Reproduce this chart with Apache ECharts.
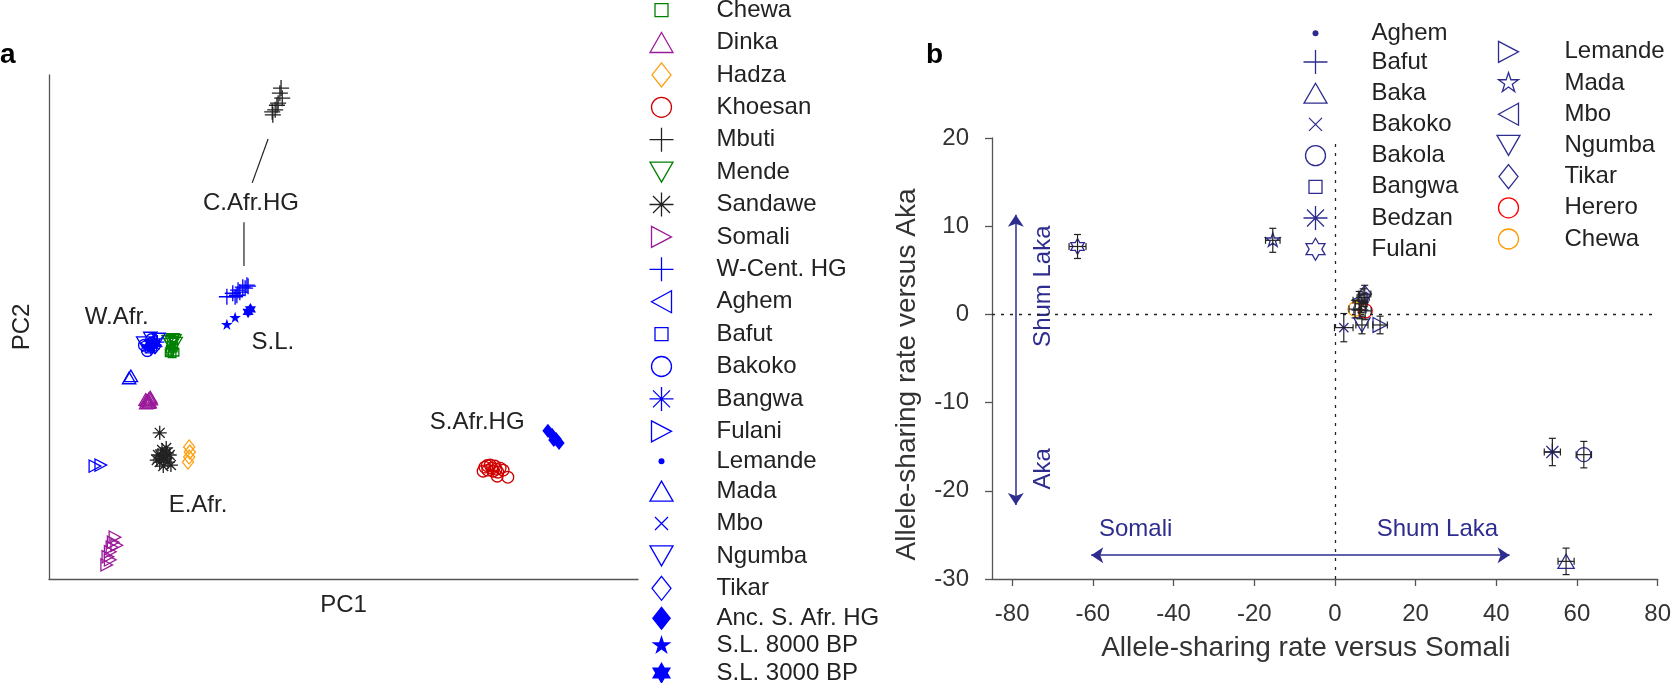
<!DOCTYPE html>
<html><head><meta charset="utf-8">
<script src="https://cdn.jsdelivr.net/npm/echarts@6/dist/echarts.min.js"></script>
<style>html,body{margin:0;padding:0;background:#fff}#c{width:1674px;height:683px}</style>
</head><body><div id="c"></div>
<script>
// ================= Panel a data (PC1, PC2 in arbitrary units, 0-100) =================
const aNames = ['Chewa','Dinka','Hadza','Khoesan','Mbuti','Mende','Sandawe','Somali','W-Cent. HG','Aghem','Bafut','Bakoko','Bangwa','Fulani','Lemande','Mada','Mbo','Ngumba','Tikar','Anc. S. Afr. HG','S.L. 8000 BP','S.L. 3000 BP'];
const a_Chewa   = [[20.5,45.2],[21.1,45.8],[20.8,46.4],[21.4,45.0],[20.9,44.7],[20.6,45.6],[21.2,46.2],[20.4,44.9]];
const a_Dinka   = [[16.6,35.5],[17.0,35.9],[17.1,35.1],[16.5,34.9],[17.3,35.7],[16.8,35.3],[16.9,35.0],[16.4,35.6],[17.2,36.1]];
const a_Hadza   = [[23.8,26.2],[23.9,25.2],[23.8,24.2],[23.6,23.2]];
const a_Khoesan = [[74.0,22.2],[74.9,22.6],[75.7,22.4],[76.6,22.0],[74.5,21.6],[75.4,21.4],[76.2,21.2],[77.1,21.6],[77.9,20.2],[76.1,20.4],[73.7,21.4],[75.2,22.0],[74.4,22.5],[75.9,21.8]];
const a_Mbuti   = [[39.4,97.4],[39.2,96.4],[39.6,95.4],[38.9,94.4],[38.7,94.0],[38.4,93.1],[37.9,92.7],[38.0,92.1]];
const a_Mende   = [[20.3,47.2],[21.0,47.5],[21.5,46.8],[20.7,46.6],[20.9,47.0],[21.3,47.3]];
const a_Sandawe = [[18.8,29.0],[18.5,24.6],[19.2,25.6],[19.7,24.0],[20.2,23.2],[18.8,23.2],[20.5,24.6],[19.4,22.4],[19.9,26.0],[20.7,22.6],[18.3,23.6],[19.5,23.8],[20.0,25.0],[19.0,24.4]];
const a_Somali  = [[11.2,8.3],[10.9,7.3],[11.5,6.7],[10.7,6.3],[10.4,5.4],[10.0,4.4],[10.4,3.8],[9.8,2.8]];
const a_WCentHG = [[30.2,56.0],[31.2,56.7],[32.1,57.3],[32.9,57.9],[33.6,58.3],[32.4,56.9],[31.9,56.3],[33.3,57.7],[33.8,58.1],[31.6,56.0]];
const a_Aghem   = [[16.5,46.8],[17.2,47.2],[16.9,46.2]];
const a_Bafut   = [[17.6,46.0],[18.1,46.9],[17.0,45.6]];
const a_Bakoko  = [[16.2,46.4],[17.4,47.5],[16.7,45.3]];
const a_Bangwa  = [[17.9,46.5],[18.4,47.0],[17.3,45.8]];
const a_Fulani  = [[7.8,22.4],[8.8,22.6]];
const a_Lemande = [[17.0,46.7],[17.8,45.9]];
const a_Mada    = [[13.6,39.9],[13.9,40.3]];
const a_Mbo     = [[16.4,45.8],[17.5,46.6]];
const a_Ngumba  = [[18.6,47.6],[17.2,47.8],[16.0,46.9]];
const a_Tikar   = [[18.0,46.1],[17.3,46.3]];
const a_AncSAfr = [[84.7,29.4],[85.4,28.6],[86.1,27.8],[86.6,27.0],[85.7,27.6]];
const a_SL8000  = [[30.2,50.4],[31.6,51.8]];
const a_SL3000  = [[33.8,53.0],[34.2,53.5]];
const aLabelText = ['C.Afr.HG','W.Afr.','S.L.','E.Afr.','S.Afr.HG'];
const aLabelX    = [34.3, 11.5, 38.0, 25.3, 72.7];
const aLabelY    = [74.6, 52.0, 47.0, 14.7, 31.0];
const aLine1 = [[37.2,87.3],[34.5,78.6]];
const aLine2 = [[33.1,70.8],[33.1,62.1]];

// ================= Panel b data =================
const bNames = ['Aghem','Bafut','Baka','Bakoko','Bakola','Bangwa','Bedzan','Fulani','Lemande','Mada','Mbo','Ngumba','Tikar','Herero','Chewa'];
const bX    = [6.5, 6.2, 57.3, 2.2, 61.7, 7.0, 53.9, -63.8, 11.2, -15.4, 6.0, 6.7, 7.4, 7.5, 5.0];
const bY    = [1.2, 0.5, -28.0, -1.5, -15.9, 1.9, -15.6, 7.7, -1.2, 8.4, 1.6, -1.2, 2.3, 0.4, 0.6];
const bXErr = [1.5, 1.5, 2.0, 2.3, 1.9, 1.5, 2.0, 2.1, 1.8, 1.8, 1.5, 1.5, 1.5, 1.5, 1.5];
const bYErr = [1.0, 1.0, 1.5, 1.6, 1.5, 1.0, 1.55, 1.36, 1.0, 1.36, 1.0, 1.0, 1.0, 1.0, 1.0];
const bXTicks = [-80,-60,-40,-20,0,20,40,60,80];
const bTextLabels = ['Shum Laka','Aka','Somali','Shum Laka'];
const bTextX = [-72.2, -72.2, -49.4, 25.4];
const bTextY = [3.2, -17.5, -24.4, -24.4];
const bArrowV = [[-79.1, 11.3],[-79.1, -21.6]];
const bArrowH = [[-60.4, -27.3],[43.3, -27.3]];

// ================= styles =================
const FONT = 'Liberation Sans, Arial, Helvetica, sans-serif';
const NAVY = '#2e2d8f', BLUE = '#0000ff', GREEN = '#008000', PURPLE = '#9a1a9a',
      ORANGE = '#ffa010', DRED = '#d00000', BLACK = '#222222';
function circ(r){ return `M${12+r} 12A${r} ${r} 0 1 1 ${12-r} 12A${r} ${r} 0 1 1 ${12+r} 12Z`; }
function starPath(R, ratio, n){
  let d='';
  for(let i=0;i<2*n;i++){
    const r = i%2===0 ? R : R*ratio;
    const ang = -Math.PI/2 + i*Math.PI/n;
    d += (i===0?'M':'L') + (12+r*Math.cos(ang)).toFixed(2)+' '+(12+r*Math.sin(ang)).toFixed(2);
  }
  return d+'Z';
}
const SH = {
  square: 'M5.5 5.5L18.5 5.5L18.5 18.5L5.5 18.5Z',
  up: 'M12 2L23.5 22L0.5 22Z',
  down: 'M0.5 2L23.5 2L12 22Z',
  right: 'M2 1.5L22 12L2 22.5Z',
  left: 'M22 1L2 12L22 23Z',
  diamond: 'M12 0L21.5 12L12 24L2.5 12Z',
  circle: circ(10),
  plus: 'M12 0L12 24M0 12L24 12',
  aster: 'M12 0L12 24M0 12L24 12M3.5 3.5L20.5 20.5M20.5 3.5L3.5 20.5',
  x: 'M5.5 5.5L18.5 18.5M18.5 5.5L5.5 18.5',
  dot: circ(3),
  star5: starPath(10.5, 0.382, 5),
  hex: starPath(11, 0.577, 6)
};
const sym = s => 'path://M0 0M24 24' + SH[s];

const aStyles = [
  ['square',GREEN,0],['up',PURPLE,0],['diamond',ORANGE,0],['circle',DRED,0],['plus',BLACK,0],
  ['down',GREEN,0],['aster',BLACK,0],['right',PURPLE,0],['plus',BLUE,0],['left',BLUE,0],
  ['square',BLUE,0],['circle',BLUE,0],['aster',BLUE,0],['right',BLUE,0],['dot',BLUE,1],
  ['up',BLUE,0],['x',BLUE,0],['down',BLUE,0],['diamond',BLUE,0],['diamond',BLUE,1],
  ['star5',BLUE,1],['hex',BLUE,1]
];
const aData = [a_Chewa,a_Dinka,a_Hadza,a_Khoesan,a_Mbuti,a_Mende,a_Sandawe,a_Somali,a_WCentHG,a_Aghem,a_Bafut,a_Bakoko,a_Bangwa,a_Fulani,a_Lemande,a_Mada,a_Mbo,a_Ngumba,a_Tikar,a_AncSAfr,a_SL8000,a_SL3000];
const bStyles = [
  ['dot',NAVY,1],['plus',NAVY,0],['up',NAVY,0],['x',NAVY,0],['circle',NAVY,0],['square',NAVY,0],
  ['aster',NAVY,0],['hex',NAVY,0],['right',NAVY,0],['star5',NAVY,0],['left',NAVY,0],['down',NAVY,0],
  ['diamond',NAVY,0],['circle','#ff0000',0],['circle','#ff9900',0]
];
function itemStyleOf(st){ return {color: st[2] ? st[1] : 'none', borderColor: st[1], borderWidth: st[2] ? 0 : 1.3, opacity:1}; }
function legendItems(names, styles){
  return names.map((n,i)=>({name:n, icon:sym(styles[i][0]), itemStyle:itemStyleOf(styles[i])}));
}
const plainLabel = {textBorderWidth:0, textBorderColor:'transparent', textShadowBlur:0, opacity:1};

const series = [];
aNames.forEach((n,i)=>{
  const st = aStyles[i];
  series.push({name:n, type:'scatter', xAxisIndex:0, yAxisIndex:0, data:aData[i],
    symbol:sym(st[0]), symbolKeepAspect:true,
    symbolSize: (st[0]==='plus') ? 16 : 14,
    itemStyle:itemStyleOf(st), silent:true, z:3});
});
[aLine1, aLine2].forEach(L=>series.push({type:'line', xAxisIndex:0, yAxisIndex:0, data:L, symbol:'none',
  lineStyle:{color:BLACK, width:1.2}, silent:true, z:2}));
series.push({type:'scatter', xAxisIndex:0, yAxisIndex:0, symbolSize:1, itemStyle:{color:'transparent', opacity:1}, silent:true,
  data: aLabelText.map((t,i)=>({name:t, value:[aLabelX[i], aLabelY[i]]})),
  label:Object.assign({show:true, position:'inside', formatter:'{b}', color:BLACK, fontSize:24, fontFamily:FONT}, plainLabel)});

// panel b
series.push({type:'scatter', xAxisIndex:1, yAxisIndex:1, data:[], silent:true,
  markLine:{silent:true, symbol:'none', label:{show:false}, lineStyle:{type:[3,6], color:BLACK, width:1.3, opacity:1},
    data:[{yAxis:0},{xAxis:0}]}});
series.push({type:'scatter', xAxisIndex:1, yAxisIndex:1, data:[], silent:true,
  markLine:{silent:true, symbol:['arrow','arrow'], symbolSize:12, label:{show:false},
    lineStyle:{type:'solid', color:NAVY, width:1.5, opacity:1},
    data:[[{coord:bArrowV[0]},{coord:bArrowV[1]}],[{coord:bArrowH[0]},{coord:bArrowH[1]}]]}});
bNames.forEach((n,i)=>{
  const st = bStyles[i];
  series.push({name:n, type:'scatter', xAxisIndex:1, yAxisIndex:1, data:[[bX[i], bY[i]]],
    symbol:sym(st[0]), symbolKeepAspect:true, symbolSize:17,
    itemStyle:itemStyleOf(st), silent:true, z:3});
});
series.push({type:'custom', xAxisIndex:1, yAxisIndex:1, silent:true, z:4,
  data: bX.map((x,i)=>[x, bY[i], bXErr[i], bYErr[i]]),
  encode:{x:0, y:1},
  renderItem(params, api){
    const x=api.value(0), y=api.value(1), ex=api.value(2), ey=api.value(3);
    const l=api.coord([x-ex,y]), r=api.coord([x+ex,y]), t=api.coord([x,y+ey]), b=api.coord([x,y-ey]);
    const c=3.5, st={stroke:BLACK, lineWidth:1.2};
    const ln=(x1,y1,x2,y2)=>({type:'line', shape:{x1,y1,x2,y2}, style:st});
    return {type:'group', children:[
      ln(l[0],l[1],r[0],r[1]), ln(l[0],l[1]-c,l[0],l[1]+c), ln(r[0],r[1]-c,r[0],r[1]+c),
      ln(t[0],t[1],b[0],b[1]), ln(t[0]-c,t[1],t[0]+c,t[1]), ln(b[0]-c,b[1],b[0]+c,b[1])
    ]};
  }});
series.push({type:'scatter', xAxisIndex:1, yAxisIndex:1, symbolSize:1, itemStyle:{color:'transparent', opacity:1}, silent:true,
  data: bTextLabels.map((t,i)=>({name:t, value:[bTextX[i], bTextY[i]], label:{rotate: i<2 ? 90 : 0}})),
  label:Object.assign({show:true, position:'inside', formatter:'{b}', color:NAVY, fontSize:24, fontFamily:FONT}, plainLabel)});

const legendText = {color:BLACK, fontSize:24, fontFamily:FONT, lineHeight:24};
const bFirst = bNames.slice(0,8), bSecond = bNames.slice(8);

const option = {
  animation:false,
  backgroundColor:'#fff',
  textStyle:{fontFamily:FONT},
  graphic:[
    {type:'text', left:0, top:41, style:{text:'a', font:'bold 28px '+FONT, fill:'#000'}},
    {type:'text', left:926, top:41, style:{text:'b', font:'bold 28px '+FONT, fill:'#000'}}
  ],
  grid:[
    {left:49, top:75, width:589, height:504},
    {left:992, top:138, width:671, height:441}
  ],
  xAxis:[
    {gridIndex:0, type:'value', min:0, max:100, axisLine:{onZero:false, lineStyle:{color:'#555', width:1.3}},
     axisTick:{show:false}, axisLabel:{show:false}, splitLine:{show:false},
     name:'PC1', nameLocation:'middle', nameGap:14, nameTextStyle:{fontSize:24, color:BLACK, fontFamily:FONT}},
    {gridIndex:1, type:'value', min:-85, max:80,
     axisLine:{onZero:false, lineStyle:{color:'#555', width:1.3}},
     axisTick:{show:true, length:7, inside:false, customValues:bXTicks, lineStyle:{color:'#555', width:1.3}},
     axisLabel:{customValues:bXTicks, fontSize:24, color:'#333', margin:23, fontFamily:FONT},
     splitLine:{show:false},
     name:'Allele-sharing rate versus Somali', nameLocation:'middle', nameGap:55,
     nameTextStyle:{fontSize:28, color:'#333', fontFamily:FONT, padding:[0,38,0,0]}}
  ],
  yAxis:[
    {gridIndex:0, type:'value', min:0, max:100, axisLine:{onZero:false, lineStyle:{color:'#555', width:1.3}},
     axisTick:{show:false}, axisLabel:{show:false}, splitLine:{show:false},
     name:'PC2', nameLocation:'middle', nameGap:15, nameRotate:90, nameTextStyle:{fontSize:24, color:BLACK, fontFamily:FONT}},
    {gridIndex:1, type:'value', min:-30, max:20, interval:10,
     axisLine:{onZero:false, lineStyle:{color:'#555', width:1.3}},
     axisTick:{show:true, length:7, inside:false, lineStyle:{color:'#555', width:1.3}},
     axisLabel:{fontSize:24, color:'#333', margin:23, fontFamily:FONT},
     splitLine:{show:false},
     name:'Allele-sharing rate versus Aka', nameLocation:'middle', nameGap:71, nameRotate:90,
     nameTextStyle:{fontSize:28, color:'#333', fontFamily:FONT, padding:[0,32,0,0]}}
  ],
  legend:[
    {orient:'vertical', left:642, top:-9.4, height:720, itemWidth:100, itemHeight:24, itemGap:3.4, symbolKeepAspect:true,
     selectedMode:false, textStyle:legendText, data:legendItems(aNames, aStyles)},
    {orient:'vertical', left:1296, top:16.3, itemWidth:102, itemHeight:24, itemGap:2.2, symbolKeepAspect:true,
     selectedMode:false, textStyle:legendText, data:legendItems(bFirst, bStyles.slice(0,8))},
    {orient:'vertical', left:1489, top:32.3, itemWidth:102, itemHeight:24, itemGap:2.2, symbolKeepAspect:true,
     selectedMode:false, textStyle:legendText, data:legendItems(bSecond, bStyles.slice(8))}
  ],
  series
};
const chart = echarts.init(document.getElementById('c'), null, {renderer:'canvas'});
chart.setOption(option);
</script></body></html>
